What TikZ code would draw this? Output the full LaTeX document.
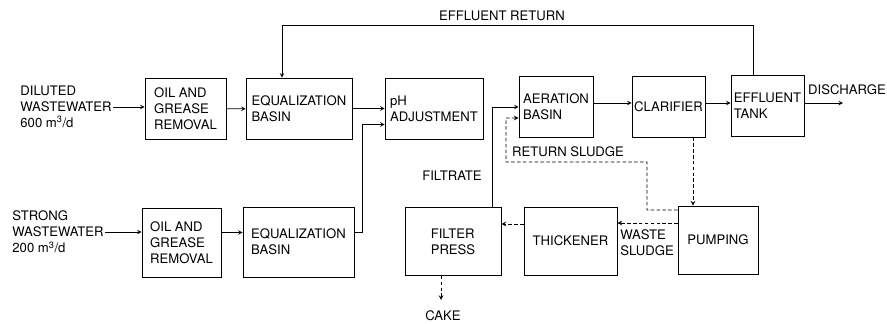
\documentclass[tikz,border=0pt]{standalone}
\usepackage{fontspec}
\setmainfont{TeX Gyre Heros}
\usetikzlibrary{calc}

\begin{document}
\begin{tikzpicture}[x=0.3mm,y=-0.3mm,>=stealth,line width=0.7pt,
	unit/.style={draw,align=left,inner sep=1pt,minimum height=18.3mm},
	lowunit/.style={unit,minimum height=20.4mm},
	lbl/.style={align=left,inner sep=0pt},
	flow/.style={->},
	sludge/.style={->,line width=0.8pt,dash pattern=on 3pt off 2pt}]
	\fontsize{11.2}{13.6}\selectfont
	\useasboundingbox (0,0) rectangle (887,323);
	% Hàng trên
	\node[unit,minimum width=24.3mm] (og1) at (185.5,109) {OIL AND\\GREASE\\REMOVAL};
	\node[unit,minimum width=31.8mm] (eq1) at (299,108.5) {EQUALIZATION\\BASIN};
	\node[unit,minimum width=29.4mm] (ph) at (434,108.5) {pH\\ADJUSTMENT};
	\node[unit,minimum width=22.2mm] (aer) at (556,107) {AERATION\\BASIN};
	\node[unit,minimum width=21.9mm] (cla) at (668.5,106.5) {CLARIFIER};
	\node[unit,minimum width=21.9mm] (eft) at (767.5,105.5) {EFFLUENT\\TANK};
	% Hàng dưới
	\node[lowunit,minimum width=23.7mm,minimum height=20.7mm] (og2) at (181.5,242.5) {OIL AND\\GREASE\\REMOVAL};
	\node[lowunit,minimum width=33.3mm,minimum height=21mm] (eq2) at (298.5,242) {EQUALIZATION\\BASIN};
	\node[lowunit,minimum width=28.8mm] (fp) at (453,241.5) {FILTER\\PRESS};
	\node[lowunit,minimum width=27.9mm] (thk) at (570.5,241) {THICKENER};
	\node[lowunit,minimum width=24mm] (pmp) at (718,240) {PUMPING};
	% Nhãn
	\node[lbl,anchor=west] (dil) at (20,107) {DILUTED\\WASTEWATER\\600 m\textsuperscript{3}/d};
	\node[lbl,anchor=west] (str) at (12,232) {STRONG\\WASTEWATER\\200 m\textsuperscript{3}/d};
	\node[lbl] (ret) at (502,16) {EFFLUENT RETURN};
	\node[lbl] (dchg) at (847,90) {DISCHARGE};
	\node[lbl] (rsl) at (568,152) {RETURN SLUDGE};
	\node[lbl] (fil) at (452,176) {FILTRATE};
	\node[lbl] (wsl) at (647,243) {WASTE\\SLUDGE};
	\node[lbl] (cake) at (443,316) {CAKE};
	\coordinate (rtop) at (0,25);
	\coordinate (dend) at (843,103);
	\coordinate (rs1) at (647,162);
	\coordinate (rs2) at (506,118);
	% Dòng chính
	\draw[flow] ([xshift=1pt]dil.east) -- (dil.east -| og1.west);
	\draw[flow] (og1) -- (eq1);
	\draw[flow] (eq1) -- (ph);
	\draw[flow] ([xshift=1pt]str.east) -- (str.east -| og2.west);
	\draw[flow] ([yshift=3mm]og2.east) -- ([yshift=3mm]og2.east -| eq2.west);
	\draw[flow] ([yshift=3mm]eq2.east) -- ++(8,0) |- ([yshift=-4.8mm]ph.west);
	\draw[flow] (aer.east |- dend) -- (cla.west |- dend);
	\draw[flow] (cla.east |- dend) -- (eft.west |- dend);
	\draw[flow] (eft.east |- dend) -- (dend);
	\draw[flow] ([xshift=-4.35mm]eft.north) |- ([xshift=-5.1mm]eq1.north |- rtop) -- ([xshift=-5.1mm]eq1.north);
	% Bùn
	\draw[flow] ([xshift=11.7mm]fp.north) |- (aer.west);
	\draw[sludge] ([yshift=9mm]pmp.west) -| (rs1) -| (rs2) -- ([yshift=-3.3mm]aer.west);
	\draw[sludge] ([xshift=7.35mm]cla.south) -- ([xshift=7.35mm]cla.south |- pmp.north);
	\draw[sludge] ([yshift=5.1mm]pmp.west) -- ([yshift=5.1mm]pmp.west -| thk.east);
	\draw[sludge] ([yshift=5.1mm]thk.west) -- ([yshift=5.1mm]thk.west -| fp.east);
	\draw[sludge] ([xshift=-3.6mm]fp.south) -- ([xshift=-3.6mm]fp.south |- 0,300);
\end{tikzpicture}
\end{document}
